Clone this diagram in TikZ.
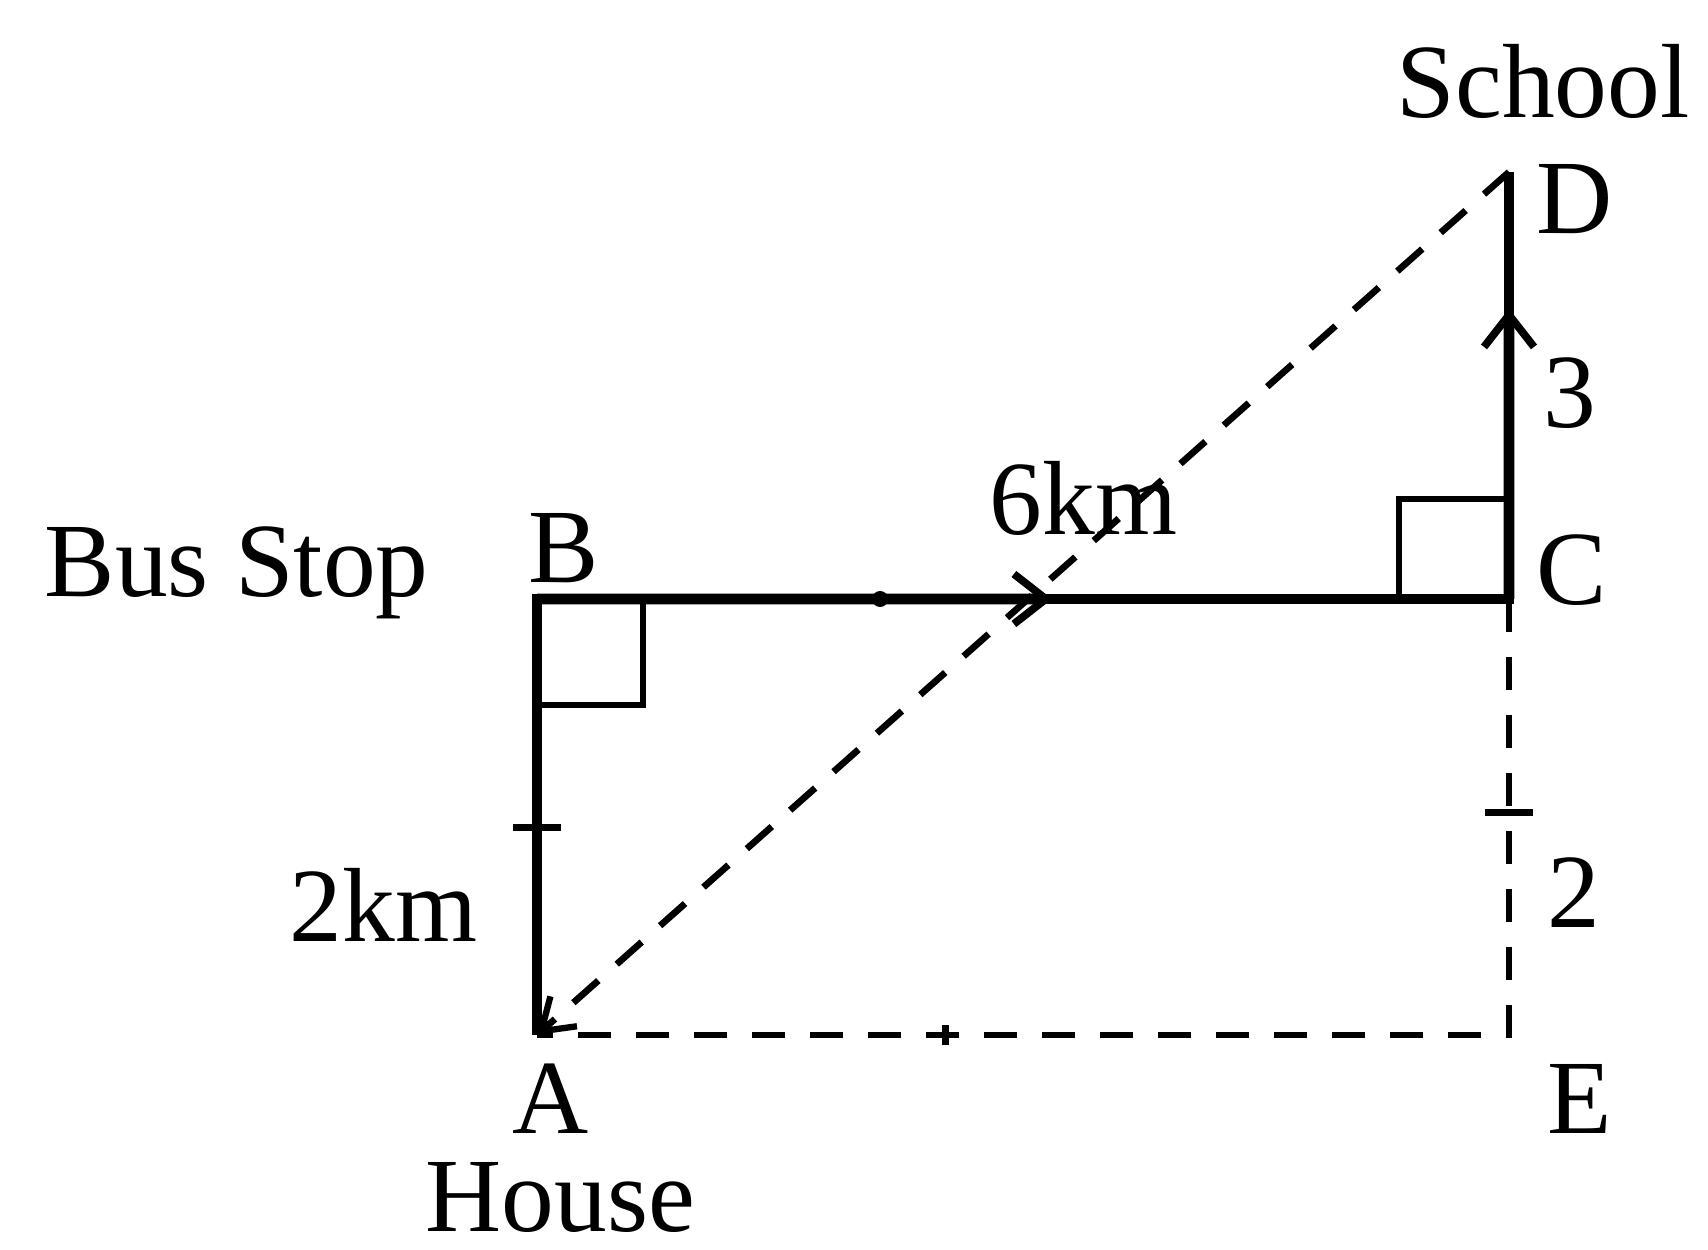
\documentclass[tikz,border=0pt]{standalone}
\usepackage{fontspec}
\setmainfont{Liberation Serif}
\usetikzlibrary{arrows.meta,calc}

\begin{document}
\begin{tikzpicture}[
  font=\fontsize{30}{36}\selectfont,
  road/.style={line width=3pt, draw=black},
  path/.style={line width=1.9pt, dash pattern=on 9.5pt off 7pt},
  rangle/.style={line width=1.9pt},
  tick/.style={line width=2pt},
  mid/.style={line width=3pt, -{Straight Barb[length=3.2mm,width=5mm,line width=2.2pt]}},
  lbl/.style={inner sep=0pt, anchor=base west},
]
\useasboundingbox (0,0) rectangle (17.08,12.49);
% points of the route
\coordinate (A) at (5.37,2.14);
\coordinate (B) at (5.37,6.50);
\coordinate (C) at (15.09,6.50);
\coordinate (D) at (15.09,10.77);
\coordinate (E) at (15.09,2.14);
% right angles
\draw[rangle] (B) rectangle ++(1.06,-1.06);
\draw[rangle] (C) rectangle ++(-1.1,1.0);
% walked route
\draw[road] (A) -- (B) -- (C) -- (D);
\draw[mid] (B) -- ($(B)!0.53!(C)$);
\draw[mid] (C) -- ($(C)!0.68!(D)$);
% dashed paths
\draw[path] (C) -- (E) -- (A);
\draw[path, -{Straight Barb[length=3mm,width=4mm,line width=1.8pt]}] (D) -- (A);
% equal-length marks
\draw[tick] ($(A)!0.475!(B)$) ++(-0.24,0) -- ++(0.48,0);
\draw[tick] ($(C)!0.49!(E)$) ++(-0.24,0) -- ++(0.48,0);
\draw[tick] ($(A)!0.42!(E)$) ++(0,-0.1) -- ++(0,0.2);
\fill ($(B)!0.353!(C)$) circle (0.08);
% labels
\node[inner sep=0pt, anchor=base] (school) at (15.43,11.31) {School};
\node[lbl] (labD) at (15.36,10.15) {D};
\node[inner sep=0pt] (lab3) at (15.70,8.56) {3};
\node[lbl] (labC) at (15.36,6.44) {C};
\node[lbl] (lab6) at (9.89,7.15) {6km};
\node[lbl] (labB) at (5.28,6.66) {B};
\node[lbl] (bus) at (0.44,6.52) {Bus Stop};
\node[lbl] (lab2km) at (2.89,3.07) {2km};
\node[lbl] (labA) at (5.12,1.16) {A};
\node[lbl] (house) at (4.25,0.18) {House};
\node[lbl] (labE) at (15.47,1.16) {E};
\node[inner sep=0pt] (lab2) at (15.74,3.56) {2};
\end{tikzpicture}
\end{document}
